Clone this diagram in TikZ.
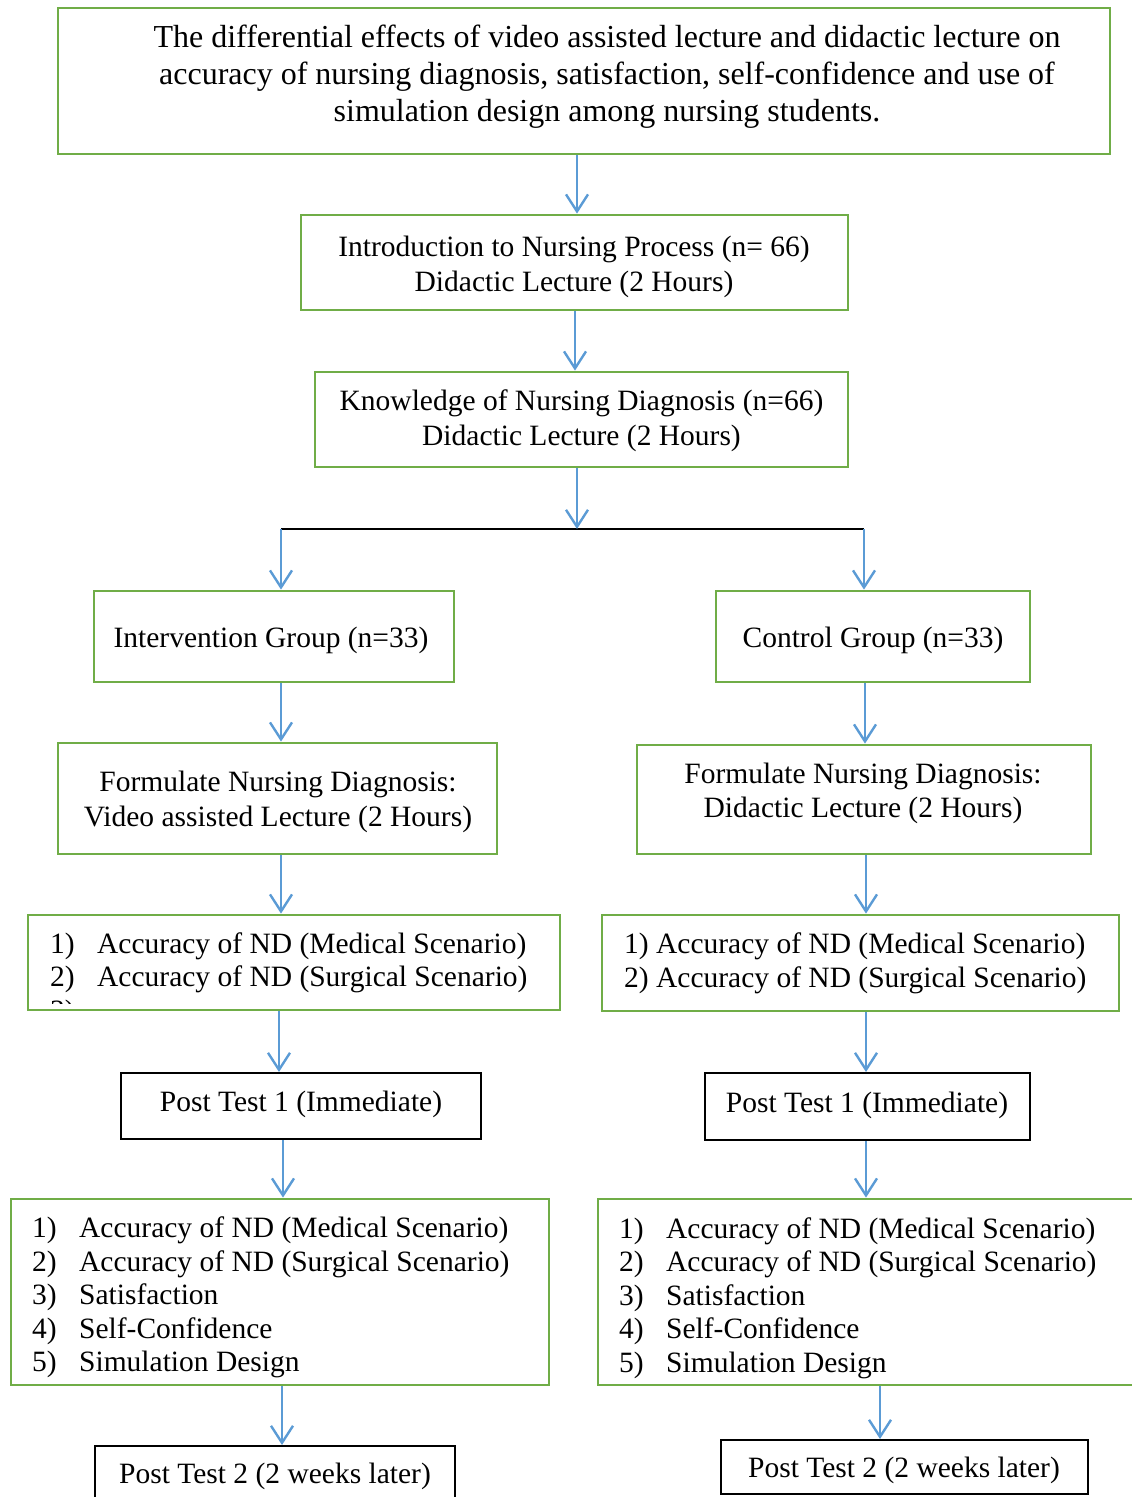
\documentclass[tikz,border=0pt]{standalone}
\usepackage{fontspec}
\setmainfont{Liberation Serif}
\usetikzlibrary{arrows.meta,calc}
\definecolor{boxgreen}{HTML}{70AD47}
\definecolor{flowblue}{HTML}{5B9BD5}
\newcommand{\itemno}[1]{\makebox[47pt][l]{#1}}
\begin{document}
\begin{tikzpicture}[x=1pt,y=-1pt,
  greenbox/.style={draw=boxgreen, line width=2.8pt, inner sep=0pt},
  blackbox/.style={draw=black, line width=2pt, inner sep=0pt},
  txt/.style={inner sep=0pt, font=\fontsize{29.5}{34.5}\selectfont, align=center},
  listtxt/.style={inner sep=0pt, font=\fontsize{29.5}{33.5}\selectfont, align=left, anchor=west},
  flow/.style={draw=flowblue, line width=2.4pt,
    -{Straight Barb[length=17pt,width=22pt,line width=2.4pt]}},
]
\path[use as bounding box, clip] (0,0) rectangle (1132,1497);

% boxes
\node[greenbox, minimum width=1052pt, minimum height=146pt] (title) at (584,81) {};
\node[greenbox, minimum width=547pt, minimum height=95pt] (intro) at (574.5,262.5) {};
\node[greenbox, minimum width=533pt, minimum height=95pt] (know) at (581.5,419.5) {};
\node[greenbox, minimum width=360pt, minimum height=91pt] (interv) at (274,636.5) {};
\node[greenbox, minimum width=314pt, minimum height=91pt] (control) at (873,636.5) {};
\node[greenbox, minimum width=439pt, minimum height=111pt] (formL) at (277.5,798.5) {};
\node[greenbox, minimum width=454pt, minimum height=109pt] (formR) at (864,799.5) {};
\node[greenbox, minimum width=532pt, minimum height=95pt] (accL) at (294,962.5) {};
\node[greenbox, minimum width=517pt, minimum height=96pt] (accR) at (860.5,963) {};
\node[blackbox, minimum width=360pt, minimum height=66pt] (pt1L) at (301,1106) {};
\node[blackbox, minimum width=325pt, minimum height=67pt] (pt1R) at (867.5,1106.5) {};
\node[greenbox, minimum width=538pt, minimum height=186pt] (listL) at (280,1292) {};
\node[greenbox, minimum width=552pt, minimum height=186pt] (listR) at (874,1292) {};
\node[blackbox, minimum width=360pt, minimum height=64pt] (pt2L) at (275,1478) {};
\node[blackbox, minimum width=367pt, minimum height=54pt] (pt2R) at (904.5,1467) {};

% texts
\node[txt, font=\fontsize{32}{37}\selectfont] (titletext) at (607,77) {The differential effects of video assisted lecture and didactic lecture on\\accuracy of nursing diagnosis, satisfaction, self-confidence and use of\\simulation design among nursing students.};
\node[txt] (introtext) at (574,267) {Introduction to Nursing Process (n= 66)\\Didactic Lecture (2 Hours)};
\node[txt] (knowtext) at (581.5,420.5) {Knowledge of Nursing Diagnosis (n=66)\\Didactic Lecture (2 Hours)};
\node[txt] (intervtext) at (271,640) {Intervention Group (n=33)};
\node[txt] (controltext) at (873,640) {Control Group (n=33)};
\node[txt] (formLtext) at (278,802) {Formulate Nursing Diagnosis:\\Video assisted Lecture (2 Hours)};
\node[txt] (formRtext) at (863,793.5) {Formulate Nursing Diagnosis:\\Didactic Lecture (2 Hours)};
\node[listtxt] (accLtext) at (50,963) {\itemno{1)}Accuracy of ND (Medical Scenario)\\\itemno{2)}Accuracy of ND (Surgical Scenario)};
\begin{scope}
  \clip (40,990) rectangle (120,1003);
  \node[listtxt] (accLcut) at (50,1013) {3)};
\end{scope}
\node[listtxt] (accRtext) at (624,963.5) {1) Accuracy of ND (Medical Scenario)\\2) Accuracy of ND (Surgical Scenario)};
\node[txt] (pt1Ltext) at (301,1104) {Post Test 1 (Immediate)};
\node[txt] (pt1Rtext) at (867,1105) {Post Test 1 (Immediate)};
\node[listtxt] (listLtext) at (32,1297.5) {\itemno{1)}Accuracy of ND (Medical Scenario)\\\itemno{2)}Accuracy of ND (Surgical Scenario)\\\itemno{3)}Satisfaction\\\itemno{4)}Self-Confidence\\\itemno{5)}Simulation Design};
\node[listtxt] (listRtext) at (619,1298) {\itemno{1)}Accuracy of ND (Medical Scenario)\\\itemno{2)}Accuracy of ND (Surgical Scenario)\\\itemno{3)}Satisfaction\\\itemno{4)}Self-Confidence\\\itemno{5)}Simulation Design};
\node[txt] (pt2Ltext) at (275,1476) {Post Test 2 (2 weeks later)};
\node[txt] (pt2Rtext) at (904,1470) {Post Test 2 (2 weeks later)};

% split into the two groups
\coordinate (splitL) at (281,529);
\coordinate (splitM) at (577,529);
\coordinate (splitR) at (864,529);
\draw[black, line width=1.5pt] (splitL) -- (splitR);

% connectors
\draw[flow] ($(title.south)+(-7,0)$) -- ($(intro.north)+(2.5,0)$);
\draw[flow] ($(intro.south)+(0.5,0)$) -- ($(know.north)+(-6.5,0)$);
\draw[flow] ($(know.south)+(-4.5,0)$) -- (splitM);
\draw[flow] (splitL) -- ($(interv.north)+(7,0)$);
\draw[flow] (splitR) -- ($(control.north)+(-9,0)$);
\draw[flow] ($(interv.south)+(7,0)$) -- ($(formL.north)+(3.5,0)$);
\draw[flow] ($(control.south)+(-8,0)$) -- ($(formR.north)+(1,0)$);
\draw[flow] ($(formL.south)+(3.5,0)$) -- ($(accL.north)+(-13,0)$);
\draw[flow] ($(formR.south)+(2,0)$) -- ($(accR.north)+(5.5,0)$);
\draw[flow] ($(accL.south)+(-15,0)$) -- ($(pt1L.north)+(-22,0)$);
\draw[flow] ($(accR.south)+(5.5,0)$) -- ($(pt1R.north)+(-1.5,0)$);
\draw[flow] ($(pt1L.south)+(-18,0)$) -- ($(listL.north)+(3,0)$);
\draw[flow] ($(pt1R.south)+(-1.5,0)$) -- ($(listR.north)+(-8,0)$);
\draw[flow] ($(listL.south)+(2,0)$) -- ($(pt2L.north)+(7,0)$);
\draw[flow] ($(listR.south)+(6,0)$) -- ($(pt2R.north)+(-24.5,0)$);
\end{tikzpicture}
\end{document}
